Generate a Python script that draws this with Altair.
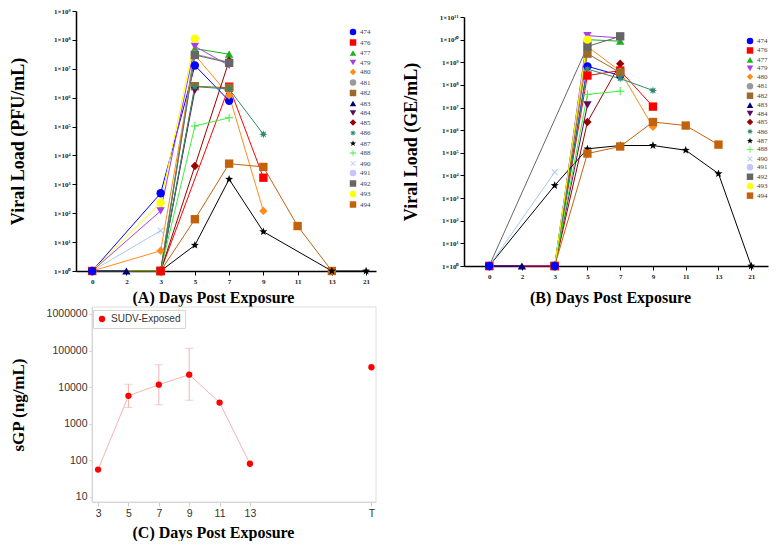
import math
import altair as alt
import pandas as pd

# ---------------- data ----------------
animals = ["474", "476", "477", "479", "480", "481", "482", "483", "484",
           "485", "486", "487", "488", "490", "491", "492", "493", "494"]
colors = ["#0000ff", "#ff0000", "#17b317", "#a63cf0", "#ff8c1a", "#9a9a9a",
          "#9c6a2a", "#00007a", "#5e0a5e", "#990000", "#2e8b6e", "#000000",
          "#3cf03c", "#a9c8f0", "#c4c4ff", "#666666", "#ffff00", "#c4620c"]
day_order = ["0", "2", "3", "5", "7", "9", "11", "13", "21"]

pfu_days = {
    "474": [0, 3, 5, 7], "476": [0, 3, 7, 9], "477": [0, 3, 5, 7],
    "479": [0, 3, 5, 7], "480": [0, 3, 5, 7, 9], "481": [3, 5, 7],
    "482": [3, 5, 7], "483": [0, 2], "484": [3, 5], "485": [3, 5, 7],
    "486": [3, 5, 7, 9], "487": [3, 5, 7, 9, 13, 21], "488": [3, 5, 7],
    "490": [0, 3], "491": [0], "492": [3, 5, 7], "493": [0, 3, 5],
    "494": [3, 5, 7, 9, 11, 13],
}
pfu_vals = {
    "474": [1, 490, 1.3e7, 7.8e5], "476": [1, 1, 2.4e6, 1.7e3],
    "477": [1, 1, 5e7, 3.2e7], "479": [1, 120, 6e7, 1.3e7],
    "480": [1, 5, 3e7, 1.2e6, 120], "481": [1, 3.2e7, 1.7e7],
    "482": [1, 2.5e6, 2.2e6], "483": [1, 1], "484": [1, 1.8e6],
    "485": [1, 4.3e3, 1.9e7], "486": [1, 2.4e6, 2e6, 5.4e4],
    "487": [1, 7.8, 1.5e3, 23, 1, 1], "488": [1, 1.05e5, 2e5],
    "490": [1, 25], "491": [1], "492": [1, 3e7, 1.6e7],
    "493": [1, 230, 1.1e8], "494": [1, 62, 5.2e3, 4e3, 36, 1],
}

ge_days = {
    "474": [0, 3, 5, 7], "476": [0, 3, 5, 7, 9], "477": [3, 5, 7],
    "479": [3, 5, 7], "480": [3, 5, 7, 9], "481": [3, 5],
    "482": [3, 5, 7], "483": [0, 2], "484": [3, 5], "485": [3, 5, 7],
    "486": [3, 5, 7, 9], "487": [0, 3, 5, 7, 9, 11, 13, 21],
    "488": [3, 5, 7], "490": [0, 3], "491": [0], "492": [0, 5, 7],
    "493": [3, 5], "494": [3, 5, 7, 9, 11, 13],
}
ge_vals = {
    "474": [1, 1, 6.6e8, 2.6e8], "476": [1, 1, 2.6e8, 4.3e8, 1.1e7],
    "477": [1, 1e10, 8.5e9], "479": [1, 1.5e10, 1.2e10],
    "480": [1, 5e9, 4e8, 1.4e6], "481": [1, 8e9], "482": [1, 2.4e9, 3.5e8],
    "483": [1, 1], "484": [1, 1.3e7], "485": [1, 2.3e6, 8.7e8],
    "486": [1, 5e8, 1.9e8, 5.7e7],
    "487": [1, 3.6e3, 1.5e5, 2.1e5, 2.1e5, 1.3e5, 1.2e4, 1],
    "488": [1, 3.8e7, 5.3e7], "490": [1, 1.4e4], "491": [1],
    "492": [1, 5e9, 1.4e10], "493": [1, 1e10],
    "494": [1, 9.3e4, 1.9e5, 2.3e6, 1.6e6, 2.3e5],
}

sgp_days = [3, 5, 7, 9, 11, 13, 21]
sgp_vals = [56, 5800, 11700, 22000, 3800, 81, 35000]
sgp_line_days = [3, 5, 7, 9, 11, 13]
sgp_err_days = [5, 7, 9]
sgp_err_lo = [2800, 3300, 4400]
sgp_err_hi = [12000, 41000, 115000]
c_xdom = [2.6, 21.3]
c_ydom = [7.3, 1.55e6]


# ---------------- marker shapes ----------------
def star_path(n, r_in):
    pts = []
    for k in range(2 * n):
        r = 1.0 if k % 2 == 0 else r_in
        a = -math.pi / 2 + k * math.pi / n
        pts.append(f"{r * math.cos(a):.3f},{r * math.sin(a):.3f}")
    return "M" + "L".join(pts) + "Z"


def plus_path(w, rot):
    base = [(-1, -w), (-w, -w), (-w, -1), (w, -1), (w, -w), (1, -w),
            (1, w), (w, w), (w, 1), (-w, 1), (-w, w), (-1, w)]
    c, s = math.cos(rot), math.sin(rot)
    pts = [f"{x * c - y * s:.3f},{x * s + y * c:.3f}" for x, y in base]
    return "M" + "L".join(pts) + "Z"


shapes = ["circle", "square", "triangle-up", "triangle-down", "diamond",
          "circle", "square", "triangle-up", "triangle-down", "diamond",
          star_path(8, 0.45), star_path(5, 0.42), plus_path(0.12, 0),
          plus_path(0.12, math.pi / 4), "circle", "square", "circle", "square"]


def long_df(days, vals):
    rows = []
    for a in animals:
        for d, v in zip(days[a], vals[a]):
            rows.append({"animal": a, "day": str(d), "value": v})
    df = pd.DataFrame(rows)
    df["ord"] = [animals.index(a) for a in df["animal"]]
    base = df[df["value"] == 1].sort_values("ord", ascending=False)
    rest = df[df["value"] != 1]
    return pd.concat([rest, base]).drop(columns="ord").reset_index(drop=True)


dfA = long_df(pfu_days, pfu_vals)
dfB = long_df(ge_days, ge_vals)

W, H = 761, 533
SERIF = "Liberation Serif"
SANS = "Liberation Sans"
sup = "['⁰','¹','²','³','⁴','⁵','⁶','⁷','⁸','⁹','¹⁰','¹¹']"
lab_expr = "'1×10' + " + sup + "[round(log(datum.value)/LN10)]"


def viral_panel(df, tag, ymax_exp, ytitle, xtitle, xr, yr, pad, align, ytp, xtp,
                xtitle_x, leg_x, leg_y, rowpad, explicit_domain):
    xenc = alt.X("day:O", sort=day_order,
                 scale=alt.Scale(type="point", padding=pad, align=align,
                                 domain=day_order, range=xr),
                 axis=alt.Axis(title=xtitle, orient="bottom", offset=yr[0] - H,
                               labelAngle=0, labelFont=SERIF,
                               labelFontWeight="bold", labelFontSize=7,
                               labelColor="#222", domainColor="#000",
                               domainWidth=1.5, tickColor="#000", tickSize=4,
                               titleFont=SERIF, titleFontSize=16,
                               titleFontWeight="bold", titleColor="#000",
                               titlePadding=xtp, titleX=xtitle_x))
    yenc = alt.Y("value:Q",
                 scale=alt.Scale(type="log", domain=[1, 10 ** ymax_exp], nice=False,
                                 range=yr),
                 axis=alt.Axis(title=ytitle, orient="left", offset=-xr[0],
                               values=[10 ** k for k in range(ymax_exp + 1)],
                               labelExpr=lab_expr, grid=False, labelFont=SERIF,
                               labelFontWeight="bold", labelFontSize=7,
                               labelColor="#222", domainColor="#000",
                               domainWidth=1.5, tickColor="#000", tickSize=4,
                               titleFont=SERIF, titleFontSize=18,
                               titleFontWeight="bold", titleColor="#000",
                               titlePadding=ytp))
    lines = alt.Chart(df).mark_line(strokeWidth=1).encode(
        x=xenc, y=yenc,
        stroke=alt.Stroke("animal:N",
                          scale=alt.Scale(domain=animals + [tag], range=colors + ["#000"]),
                          legend=None),
        detail="animal:N",
    )
    if explicit_domain:
        cscale = alt.Scale(domain=animals, range=colors)
        sscale = alt.Scale(domain=animals, range=shapes)
    else:
        cscale = alt.Scale(range=colors)
        sscale = alt.Scale(range=shapes)
    pts = alt.Chart(df).mark_point(filled=True, size=70, opacity=1).encode(
        x=xenc, y=yenc,
        color=alt.Color("animal:N", scale=cscale,
                        legend=alt.Legend(title=None, orient="none", legendX=leg_x,
                                          legendY=leg_y, labelFont=SERIF,
                                          labelFontSize=7, labelColor="#444",
                                          symbolSize=42, rowPadding=rowpad,
                                          labelOffset=3, padding=0)),
        shape=alt.Shape("animal:N", scale=sscale),
    )
    return alt.layer(lines, pts)


A = viral_panel(dfA, "A", 9, "Viral Load (PFU/mL)", "(A) Days Post Exposure",
                [68, 368], [263, 3], 0.38, 0.62, 26, 5, 205, 341, 20, 2.5, True)
B = viral_panel(dfB, "B", 11, "Viral Load (GE/mL)", "(B) Days Post Exposure",
                [456, 760], [258, 9], 0.64, 0.6, 19, 10, 602, 738, 29, 1.45, False)

# ---------------- panel C ----------------
dfC = pd.DataFrame({"day": sgp_days, "value": sgp_vals,
                    "series": ["SUDV-Exposed"] * len(sgp_days)})
dfCl = pd.DataFrame({"day": sgp_line_days, "value": sgp_vals[:len(sgp_line_days)]})
dfE = pd.DataFrame({"day": sgp_err_days, "lo": sgp_err_lo, "hi": sgp_err_hi})
dfCap = pd.DataFrame({"day": sgp_err_days * 2, "value": sgp_err_lo + sgp_err_hi})
dfFrame = pd.DataFrame({"day": [c_xdom[0]], "day2": [c_xdom[1]],
                        "value": [c_ydom[0]], "value2": [c_ydom[1]]})

PINK = "#f7b3b3"
C_XR = [84, 368]
C_YR = [494, 299]
xC = alt.X("day:Q", scale=alt.Scale(domain=c_xdom, nice=False, zero=False, range=C_XR),
           axis=alt.Axis(title="(C) Days Post Exposure", orient="bottom",
                         offset=C_YR[0] - H, values=sgp_days,
                         labelExpr="datum.value == 21 ? 'T' : datum.label",
                         grid=False, labelFont=SANS, labelFontSize=10.5,
                         labelColor="#333", domainColor="#cfcfcf",
                         tickColor="#cfcfcf", tickSize=4, titleFont=SERIF,
                         titleFontSize=16, titleFontWeight="bold",
                         titleColor="#000", titlePadding=6, titleX=205))
yC = alt.Y("value:Q", scale=alt.Scale(type="log", domain=c_ydom, nice=False, range=C_YR),
           axis=alt.Axis(title="sGP (ng/mL)", orient="left", offset=-C_XR[0],
                         values=[10, 100, 1000, 10000, 100000, 1000000],
                         format="d", grid=False, labelFont=SANS, labelFontSize=10.5,
                         labelColor="#333", domainColor="#cfcfcf",
                         tickColor="#cfcfcf", tickSize=3, titleFont=SERIF,
                         titleFontSize=17, titleFontWeight="bold",
                         titleColor="#000", titlePadding=19))

c_frame = alt.Chart(dfFrame).mark_rect(fillOpacity=0, stroke="#dedede",
                                       strokeWidth=1).encode(
    x=xC, x2="day2:Q", y=yC, y2="value2:Q")
c_line = alt.Chart(dfCl).mark_line(color=PINK, strokeWidth=1).encode(x=xC, y=yC)
c_rule = alt.Chart(dfE).mark_rule(color=PINK, strokeWidth=1).encode(
    x=xC, y=alt.Y("lo:Q"), y2="hi:Q")
c_cap = alt.Chart(dfCap).mark_tick(color=PINK, orient="horizontal", size=8,
                                   thickness=1).encode(x=xC, y=yC)
c_pts = alt.Chart(dfC).mark_circle(size=40, opacity=1).encode(
    x=xC, y=yC,
    color=alt.Color("series:N", scale=alt.Scale(domain=["SUDV-Exposed"], range=["#ff0000"]),
                    legend=alt.Legend(title=None, orient="none", legendX=85, legendY=302,
                                      labelFont=SANS, labelFontSize=10,
                                      labelColor="#333", strokeColor="#d6d6d6",
                                      padding=4, symbolSize=40)),
)
C = alt.layer(c_frame, c_line, c_rule, c_cap, c_pts)

chart = alt.layer(A, B, C).resolve_scale(
    x="independent", y="independent", color="independent",
    shape="independent", stroke="independent"
).resolve_axis(x="independent", y="independent").properties(
    width=W, height=H, padding=0,
    autosize=alt.AutoSizeParams(type="none"),
).configure_view(stroke=None)

chart.save("out.html", embed_options={"renderer": "svg", "actions": False})
